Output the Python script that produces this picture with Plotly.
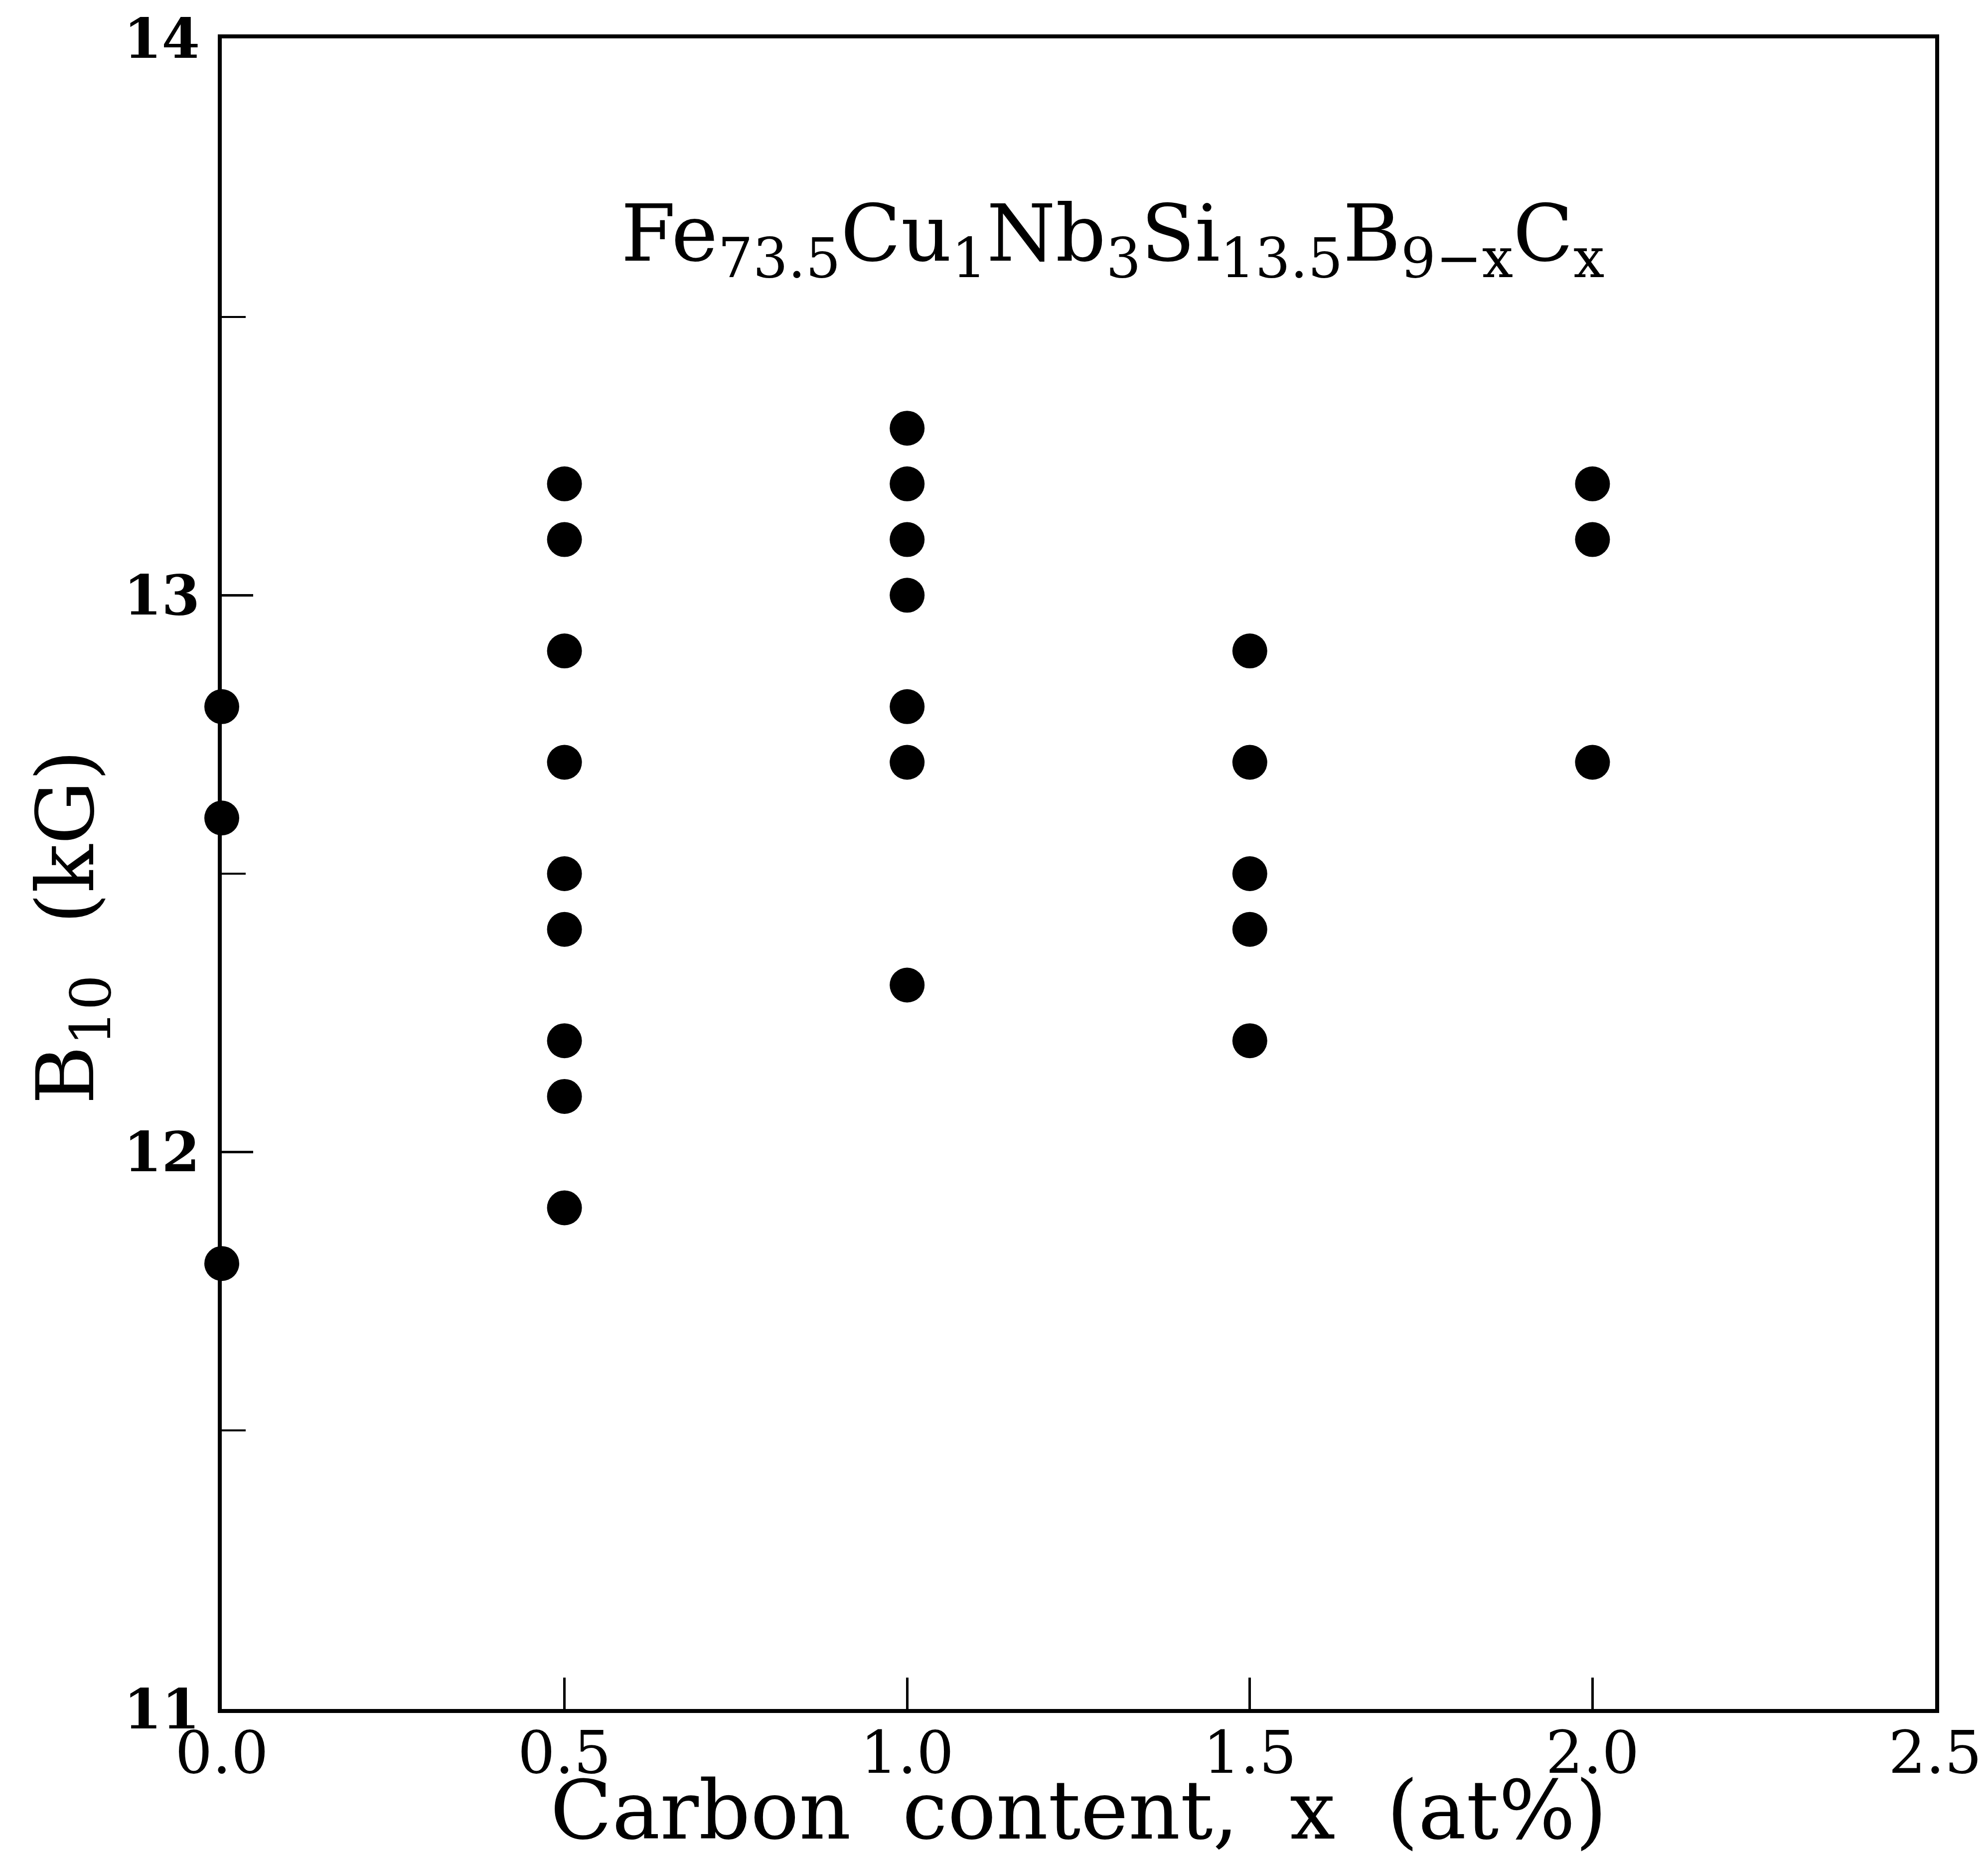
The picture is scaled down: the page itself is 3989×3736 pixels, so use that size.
import plotly.graph_objects as go

# B10 measurements (kG) grouped by carbon content x (at%)
carbon_levels = [0.0, 0.5, 1.0, 1.5, 2.0]
b10_x00 = [12.8, 12.6, 11.8]
b10_x05 = [13.2, 13.1, 12.9, 12.7, 12.5, 12.4, 12.2, 12.1, 11.9]
b10_x10 = [13.3, 13.2, 13.1, 13.0, 12.8, 12.7, 12.3]
b10_x15 = [12.9, 12.7, 12.5, 12.4, 12.2]
b10_x20 = [13.2, 13.1, 12.7]

x_ticks = [0.0, 0.5, 1.0, 1.5, 2.0, 2.5]
x_tick_text = ["0.0", "0.5", "1.0", "1.5", "2.0", "2.5"]
y_ticks = [11, 12, 13, 14]
y_tick_text = ["11", "12", "13", "14"]

groups = [b10_x00, b10_x05, b10_x10, b10_x15, b10_x20]
xs, ys = [], []
for c, vals in zip(carbon_levels, groups):
    xs += [c] * len(vals)
    ys += vals

SERIF = "DejaVu Serif"

fig = go.Figure()
fig.add_trace(go.Scatter(
    x=xs, y=ys, mode="markers",
    marker=dict(symbol="circle", size=70, color="black", line=dict(width=0)),
    cliponaxis=False, showlegend=False,
))

fig.update_layout(
    width=3989, height=3736,
    paper_bgcolor="white", plot_bgcolor="white",
    margin=dict(l=445, r=104, t=76, b=307),
    font=dict(family=SERIF, color="black"),
    xaxis=dict(
        range=[0, 2.5], tickvals=x_ticks, ticktext=x_tick_text,
        ticks="inside", ticklen=63, tickwidth=5, tickcolor="black",
        showline=True, linewidth=8, linecolor="black", mirror=True,
        showgrid=False, zeroline=False,
        tickfont=dict(family=SERIF, size=118, color="black"),
        ticklabelstandoff=-22,
    ),
    yaxis=dict(
        range=[11, 14], tickvals=y_ticks, ticktext=y_tick_text,
        ticks="inside", ticklen=63, tickwidth=5, tickcolor="black",
        minor=dict(dtick=0.5, ticks="inside", ticklen=48, tickwidth=4, tickcolor="black"),
        showline=True, linewidth=8, linecolor="black", mirror=True,
        showgrid=False, zeroline=False,
        tickfont=dict(family=SERIF, size=110, color="black", weight="bold"),
        ticklabelstandoff=14,
    ),
)

# Alloy composition label
fig.add_annotation(
    x=1.30, y=13.64, xref="x", yref="y",
    text="Fe<sub>73.5</sub>Cu<sub>1</sub>Nb<sub>3</sub>Si<sub>13.5</sub>B<sub>9\u2212x</sub>C<sub>x</sub>",
    showarrow=False, font=dict(family=SERIF, size=158, color="black"),
    xanchor="center", yanchor="middle",
)

# Axis titles
fig.add_annotation(
    x=0.5, y=-0.061, xref="paper", yref="paper",
    text="Carbon  content,  x  (at%)",
    showarrow=False, font=dict(family=SERIF, size=162, color="black"),
    xanchor="center", yanchor="middle",
)
fig.add_annotation(
    x=-0.088, y=0.468, xref="paper", yref="paper",
    text="B<sub>10</sub>  (kG)", textangle=-90,
    showarrow=False, font=dict(family=SERIF, size=160, color="black"),
    xanchor="center", yanchor="middle",
)

fig.write_html("out.html")
